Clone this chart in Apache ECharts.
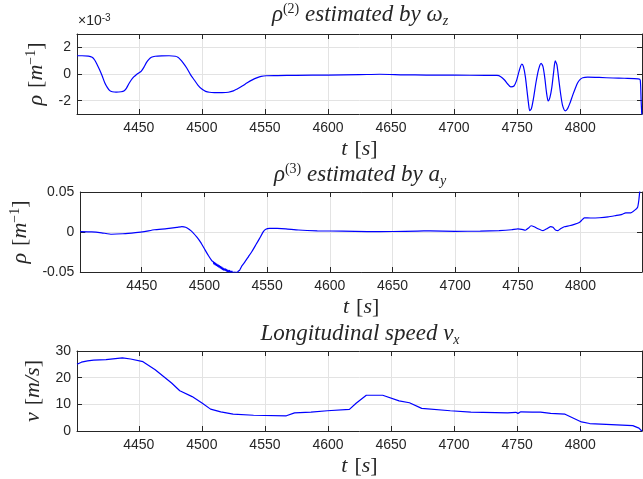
<!DOCTYPE html>
<html>
<head>
<meta charset="utf-8">
<script src="https://cdn.jsdelivr.net/npm/echarts@6/dist/echarts.min.js"></script>
<style>
  html, body { margin: 0; padding: 0; background: #fff; }
  #chart { width: 643px; height: 479px; }
</style>
</head>
<body>
<div id="chart"></div>
<script>
// ---- time axis shared by all three panels ----
const tMin = 4401;
const tMax = 4849;
const timeTicks = [4450, 4500, 4550, 4600, 4650, 4700, 4750, 4800];

// ---- curvature estimated from yaw rate (units of 1e-3 1/m) ----
const tRho2 = [4401, 4405, 4410, 4413, 4415, 4417, 4419, 4421, 4423, 4425, 4427, 4429, 4432, 4436, 4438.5, 4440, 4442, 4444, 4446, 4448,
  4450, 4452, 4454, 4456, 4458, 4460, 4463, 4468, 4474, 4479, 4481, 4483, 4485, 4488, 4491, 4494, 4497, 4500, 4503, 4506,
  4510, 4516, 4521, 4525, 4528, 4532, 4536, 4540, 4544, 4547, 4551, 4560, 4575, 4600, 4625, 4641, 4660, 4678, 4700, 4725,
  4734, 4737, 4740, 4742.5, 4745, 4747.5, 4749.5, 4751.5, 4753.7, 4755, 4756.5, 4758, 4759, 4760, 4761.3, 4763, 4765, 4767, 4769, 4770.5,
  4772, 4773.3, 4774.6, 4776, 4777.5, 4779, 4780.2, 4781.5, 4783, 4784.5, 4786, 4788.2, 4790, 4792, 4794, 4796, 4798, 4800, 4802, 4806,
  4815, 4826, 4835, 4846, 4847.6, 4848.3, 4849];
const rho2 = [1.37, 1.37, 1.34, 1.25, 1.05, 0.7, 0.3, -0.15, -0.65, -1.0, -1.25, -1.33, -1.36, -1.33, -1.25, -1.1, -0.75, -0.45, -0.22, -0.05,
  0.08, 0.22, 0.5, 0.85, 1.1, 1.26, 1.33, 1.36, 1.37, 1.33, 1.25, 1.08, 0.85, 0.45, -0.05, -0.45, -0.85, -1.13, -1.3, -1.37,
  -1.39, -1.39, -1.37, -1.27, -1.12, -0.9, -0.66, -0.44, -0.27, -0.18, -0.13, -0.12, -0.1, -0.08, -0.05, -0.02, -0.06, -0.08, -0.09, -0.1,
  -0.11, -0.2, -0.45, -0.75, -0.97, -0.9, -0.5, 0.2, 0.74, 0.55, -0.2, -1.4, -2.2, -2.75, -2.6, -1.8, -0.6, 0.35, 0.8, 0.55,
  -0.35, -1.4, -2.02, -1.75, -1.0, 0.2, 0.98, 0.7, -0.4, -1.5, -2.35, -2.76, -2.6, -2.15, -1.6, -1.1, -0.65, -0.4, -0.28, -0.24,
  -0.26, -0.3, -0.32, -0.36, -0.45, -2.0, -3.4];
const rho2Ticks = [-2, 0, 2];

// ---- curvature estimated from lateral acceleration (1/m) ----
const tRho3 = [4401, 4410, 4418, 4426, 4435, 4445, 4452, 4460, 4470, 4478, 4482, 4485, 4488, 4491, 4494, 4497, 4500, 4503, 4506,
  4507, 4507.5, 4508, 4508.5, 4509, 4509.5, 4510, 4510.5, 4511, 4511.5, 4512, 4512.5, 4513, 4513.5, 4514, 4514.5, 4515, 4515.5, 4516, 4516.5,
  4517, 4517.5, 4518, 4518.5, 4519, 4519.5, 4520, 4520.5, 4521, 4521.5, 4522, 4522.5, 4523, 4523.5, 4524, 4524.5, 4525, 4525.5, 4526, 4526.5,
  4527, 4528, 4529, 4530, 4532,
  4535, 4538, 4541, 4544, 4547, 4549, 4552, 4558, 4565, 4575, 4590, 4610, 4630, 4650, 4670, 4680, 4700, 4720, 4735, 4745, 4750, 4753, 4756,
  4758.5, 4760.5, 4763, 4766, 4770, 4773, 4776, 4778, 4780, 4782, 4784, 4787, 4791, 4795, 4799, 4801, 4803, 4808, 4815, 4822, 4828, 4833,
  4836, 4840, 4843, 4845.5, 4846.5, 4847.3, 4848];
const rho3 = [0.0005, 0.0002, -0.001, -0.0028, -0.0022, -0.0008, 0.0005, 0.0028, 0.0042, 0.0058, 0.0068, 0.006, 0.003, -0.001, -0.0065, -0.013, -0.021, -0.029, -0.036,
  -0.037, -0.040, -0.038, -0.041, -0.039, -0.042, -0.040, -0.043, -0.041, -0.044, -0.042, -0.045, -0.043, -0.046, -0.044, -0.047, -0.045, -0.048, -0.046, -0.048,
  -0.046, -0.049, -0.047, -0.050, -0.048, -0.050, -0.048, -0.051, -0.049, -0.051, -0.049, -0.052, -0.050, -0.052, -0.050, -0.052, -0.050, -0.052, -0.050, -0.051,
  -0.049, -0.048, -0.045, -0.042, -0.038,
  -0.031, -0.024, -0.016, -0.008, 0.0005, 0.0035, 0.0045, 0.0046, 0.004, 0.0025, 0.0015, 0.001, 0.0004, 0.0006, 0.0012, 0.0014, 0.0009, 0.001, 0.0018, 0.0028, 0.0038, 0.0033, 0.0022,
  0.005, 0.0078, 0.0065, 0.004, 0.0016, 0.004, 0.0068, 0.0058, 0.0025, 0.0017, 0.004, 0.0065, 0.0078, 0.0095, 0.0118, 0.0148, 0.0177, 0.0175, 0.0178, 0.0188, 0.0205, 0.022,
  0.024, 0.0238, 0.027, 0.031, 0.04, 0.052, 0.056];
const rho3Ticks = [-0.05, 0, 0.05];

// ---- longitudinal speed (m/s) ----
const tSpeed = [4401, 4404.5, 4409.4, 4414.2, 4424, 4437, 4443.5, 4453.3, 4463, 4476, 4482.5, 4492.3, 4500.4, 4506.9, 4515, 4524.8, 4541, 4567,
  4573.5, 4586.5, 4599.5, 4617, 4622.3, 4630.4, 4643.4, 4656.4, 4664.6, 4674.3, 4697, 4713.3, 4742.5, 4749, 4750.6, 4752.9, 4762, 4762.6,
  4768.5, 4776.6, 4788, 4801, 4807.5, 4820.5, 4841.7, 4846.6, 4849];
const speed = [25.0, 25.8, 26.3, 26.6, 26.8, 27.4, 27.0, 26.0, 23.0, 18.0, 15.1, 12.9, 10.4, 8.2, 7.2, 6.3, 5.9, 5.7,
  6.8, 7.1, 7.6, 8.1, 10.4, 13.4, 13.4, 11.3, 10.6, 8.5, 7.6, 7.1, 6.8, 7.0, 6.6, 7.2, 7.1, 7.5,
  7.1, 6.6, 6.3, 3.4, 2.8, 2.5, 2.0, 1.1, -0.1];
const speedTicks = [0, 10, 20, 30];

const pairs = (xs, ys) => xs.map((x, i) => [x, ys[i]]);
const plainNumber = v => String(v);

const ink = '#262626';
const gridInk = '#e3e3e3';
const serif = '"Liberation Serif", "DejaVu Serif", serif';
const sans = '"Liberation Sans", Arial, Helvetica, sans-serif';

// rich-text styles for the LaTeX-like axis names
const mathRich = {
  i: { fontFamily: serif, fontStyle: 'italic', fontSize: 22, color: ink, lineHeight: 25 },
  n: { fontFamily: serif, fontSize: 22, color: ink, lineHeight: 25 },
  sp: { fontFamily: serif, fontSize: 22, color: ink, lineHeight: 25, width: 7 },
  sup: { fontFamily: serif, fontSize: 14, color: ink, lineHeight: 14, verticalAlign: 'top' }
};

const panels = [
  { top: 34, yMin: -3, yMax: 3, yTicks: rho2Ticks, yName: '{i|ρ}{sp| }{n|[}{i|m}{sup|−1}{n|]}', yGap: 22, data: pairs(tRho2, rho2), smooth: 0.25 },
  { top: 192, yMin: -0.05, yMax: 0.05, yTicks: rho3Ticks, yName: '{i|ρ}{sp| }{n|[}{i|m}{sup|−1}{n|]}', yGap: 43, data: pairs(tRho3, rho3), smooth: 0.15 },
  { top: 351, yMin: 0, yMax: 30, yTicks: speedTicks, yName: '{i|v}{sp| }{n|[}{i|m/s}{n|]}', yGap: 24, data: pairs(tSpeed, speed), smooth: false }
];

const grids = [], xAxes = [], yAxes = [], series = [];
panels.forEach((p, k) => {
  grids.push({ left: 77, right: 1, top: p.top, height: 80, show: false, containLabel: false });
  const tickBase = { show: true, inside: true, length: 5, lineStyle: { color: ink, width: 1 } };
  // bottom time axis with labels and grid lines
  xAxes.push({
    type: 'value', gridIndex: k, position: 'bottom', min: tMin, max: tMax,
    axisLine: { show: true, onZero: false, lineStyle: { color: ink, width: 1 } },
    axisTick: Object.assign({ customValues: timeTicks }, tickBase),
    axisLabel: { customValues: timeTicks, formatter: plainNumber, color: ink, fontFamily: sans, fontSize: 14, margin: 7 },
    splitLine: { show: true, lineStyle: { color: gridInk, width: 1 } },
    name: '{i|t}{sp| }{n|[}{i|s}{n|]}', nameLocation: 'middle', nameGap: 23,
    nameTextStyle: { rich: mathRich }
  });
  // top edge of the box, ticks only
  xAxes.push({
    type: 'value', gridIndex: k, position: 'top', min: tMin, max: tMax,
    axisLine: { show: true, onZero: false, lineStyle: { color: ink, width: 1 } },
    axisTick: Object.assign({ customValues: timeTicks }, tickBase),
    axisLabel: { show: false }, splitLine: { show: false }
  });
  yAxes.push({
    type: 'value', gridIndex: k, position: 'left', min: p.yMin, max: p.yMax,
    axisLine: { show: true, onZero: false, lineStyle: { color: ink, width: 1 } },
    axisTick: Object.assign({ customValues: p.yTicks }, tickBase),
    axisLabel: { customValues: p.yTicks, formatter: plainNumber, color: ink, fontFamily: sans, fontSize: 14, margin: 6 },
    splitLine: { show: true, lineStyle: { color: gridInk, width: 1 } },
    name: p.yName, nameLocation: 'middle', nameGap: p.yGap, nameRotate: 90,
    nameTextStyle: { rich: mathRich }
  });
  yAxes.push({
    type: 'value', gridIndex: k, position: 'right', min: p.yMin, max: p.yMax,
    axisLine: { show: true, onZero: false, lineStyle: { color: ink, width: 1 } },
    axisTick: Object.assign({ customValues: p.yTicks }, tickBase),
    axisLabel: { show: false }, splitLine: { show: false }
  });
  series.push({
    type: 'line', xAxisIndex: 2 * k, yAxisIndex: 2 * k, data: p.data,
    showSymbol: false, smooth: p.smooth, clip: true,
    lineStyle: { color: '#0000ff', width: 1.2 }, z: 5
  });
});

// panel titles and the exponent note
const titleRich = {
  i: { fontFamily: serif, fontStyle: 'italic', fontSize: 23, fill: ink, lineHeight: 26 },
  sup: { fontFamily: serif, fontSize: 14, fill: ink, lineHeight: 14, verticalAlign: 'top' },
  sub: { fontFamily: serif, fontStyle: 'italic', fontSize: 14, fill: ink, lineHeight: 14, verticalAlign: 'bottom' }
};
const titles = [
  { y: 15, text: '{i|ρ}{sup|(2)}{i| estimated by ω}{sub|z}' },
  { y: 175, text: '{i|ρ}{sup|(3)}{i| estimated by a}{sub|y}' },
  { y: 334, text: '{i|Longitudinal speed v}{sub|x}' }
];
const graphic = titles.map(t => ({
  type: 'text', x: 360, y: t.y,
  style: { text: t.text, rich: titleRich, align: 'center', verticalAlign: 'middle' }
}));
graphic.push({
  type: 'text', x: 78, y: 21,
  style: {
    text: '{a|×10}{b|-3}', align: 'left', verticalAlign: 'middle',
    rich: {
      a: { fontFamily: sans, fontSize: 14, fill: ink, lineHeight: 16 },
      b: { fontFamily: sans, fontSize: 10, fill: ink, lineHeight: 10, verticalAlign: 'top' }
    }
  }
});

const chart = echarts.init(document.getElementById('chart'), null, { renderer: 'canvas' });
chart.setOption({
  animation: false,
  backgroundColor: '#ffffff',
  grid: grids,
  xAxis: xAxes,
  yAxis: yAxes,
  series: series,
  graphic: graphic
});
</script>
</body>
</html>
